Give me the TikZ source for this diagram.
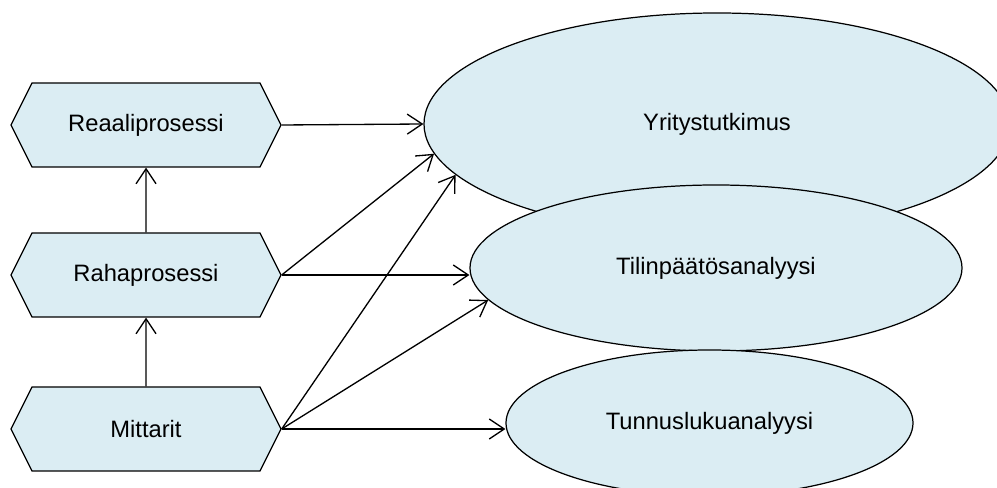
\documentclass[tikz,border=0pt]{standalone}
\usepackage{fontspec}
\setmainfont{Liberation Sans}
\usetikzlibrary{shapes.symbols,shapes.geometric,arrows.meta}
\definecolor{paleblue}{RGB}{219,237,243}

\begin{document}
\begin{tikzpicture}[
  hexbox/.style={signal,signal to=west and east,signal pointer angle=126.87,
    draw,fill=paleblue,line width=0.7pt,minimum width=5.4cm,minimum height=1.68cm,
    inner sep=0pt,font=\fontsize{13.5}{16}\selectfont},
  oval/.style={ellipse,draw,fill=paleblue,line width=0.7pt,inner sep=0pt,
    font=\fontsize{13.5}{16}\selectfont},
  link/.style={line width=0.75pt,-{Straight Barb[length=3mm,width=4mm,line width=0.75pt]}}]
\useasboundingbox (0,0) rectangle (19.94,9.76);

\path (2.92,7.26) node[hexbox] (reaali) {Reaaliprosessi};
\path (2.92,4.26) node[hexbox] (raha) {Rahaprosessi};
\path (2.92,1.18) node[hexbox] (mitta) {Mittarit};

\path (14.34,7.28) node[oval,minimum width=11.72cm,minimum height=4.44cm] (yritys) {Yritystutkimus};
\path (14.32,4.40) node[oval,minimum width=9.84cm,minimum height=3.32cm] (tilin) {Tilinpäätösanalyysi};
\path (14.19,1.30) node[oval,minimum width=8.14cm,minimum height=2.92cm] (tunnus) {Tunnuslukuanalyysi};

\draw[link] (raha) -- (reaali);
\draw[link] (mitta) -- (raha);

\draw[link] (reaali.east) -- (yritys.west);
\draw[link] (raha.east) -- (yritys.186.6);
\draw[link] (raha.east) -- (raha.east -| tilin.west);
\draw[link] (mitta.east) -- (yritys.191.6);
\draw[link] (mitta.east) -- (tilin.188);
\draw[link] (mitta.east) -- (mitta.east -| tunnus.west);
\end{tikzpicture}
\end{document}
